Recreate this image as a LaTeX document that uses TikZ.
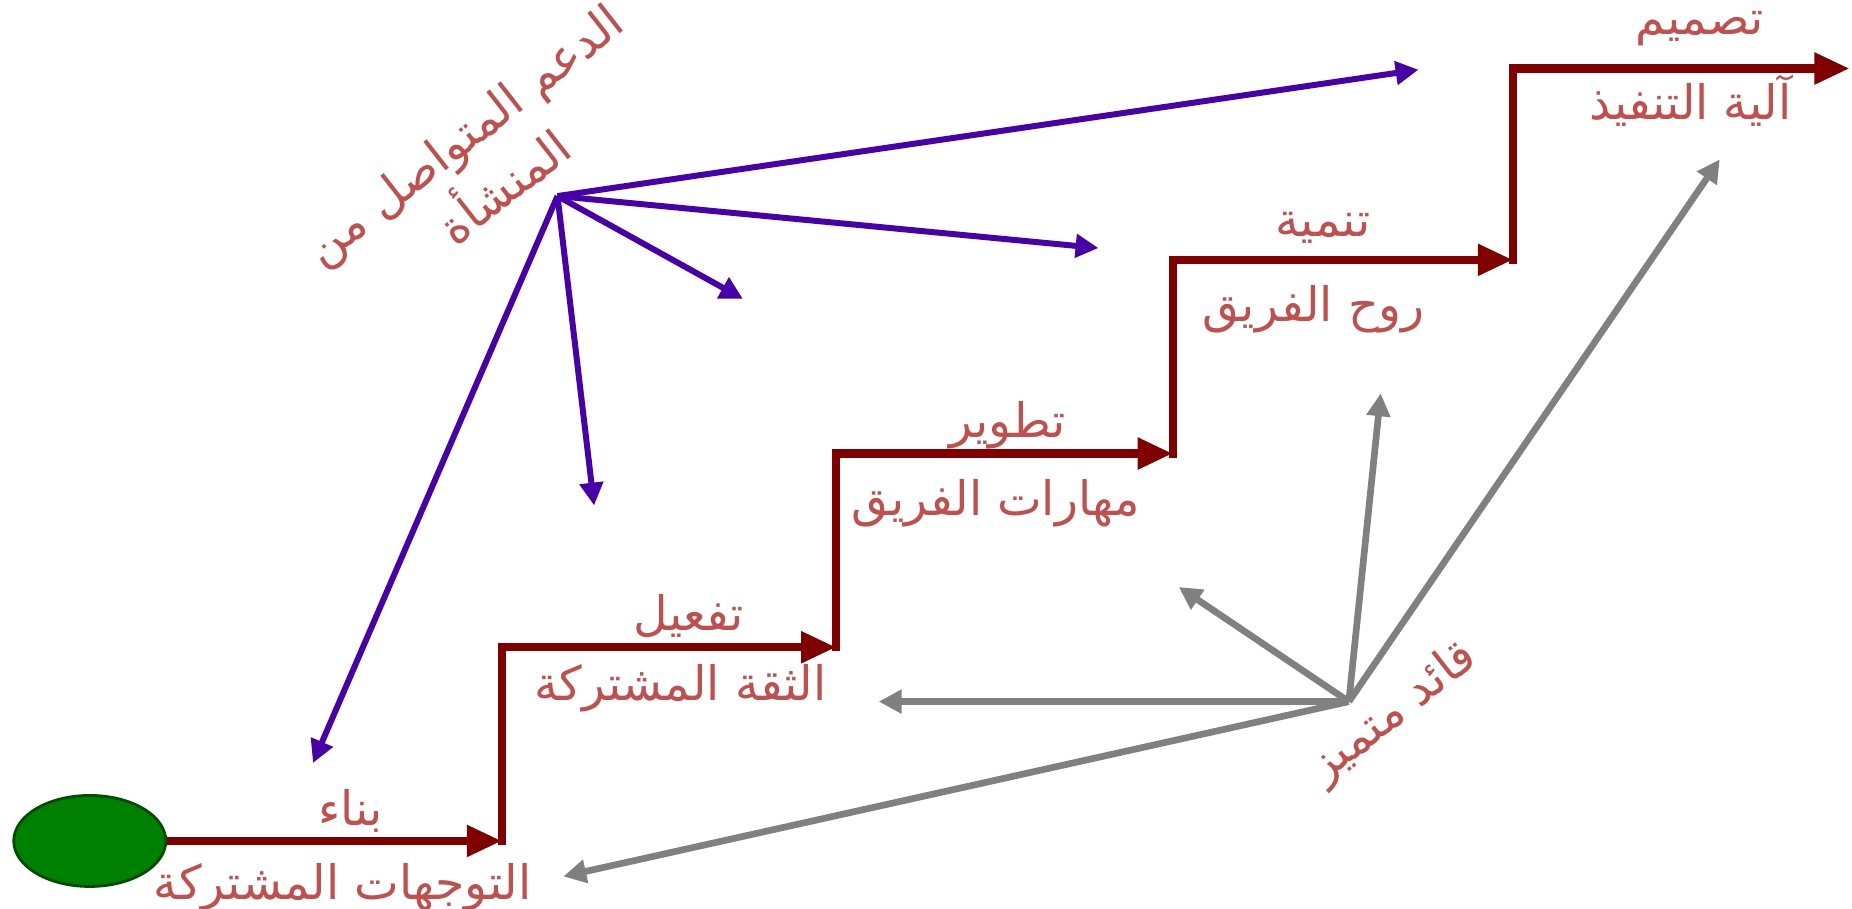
\documentclass[tikz,border=0pt]{standalone}
\usepackage{fontspec}
\newfontfamily\arabicfont[Script=Arabic]{DejaVu Sans}
\TeXXeTstate=1
\usepackage{tikz}
\usetikzlibrary{arrows.meta, shapes.geometric}
\definecolor{stairred}{RGB}{128,0,0}
\definecolor{labelred}{RGB}{192,80,77}
\definecolor{supportblue}{RGB}{72,0,168}
\definecolor{leadgray}{RGB}{128,128,128}
\definecolor{startgreen}{RGB}{0,128,0}

\begin{document}
\begin{tikzpicture}[x=0.01181cm,y=-0.01181cm,
  stair/.style={color=stairred,line width=2.4pt},
  tread/.style={stair,-{Triangle[length=10pt,width=8.5pt]}},
  support/.style={color=supportblue,line width=1.7pt,-{Triangle[length=6.5pt,width=6.5pt]}},
  lead/.style={color=leadgray,line width=1.9pt,-{Triangle[length=6.5pt,width=6.5pt]}},
  lbl/.style={text=labelred,font=\arabicfont\fontsize{13.5}{19}\selectfont}]
\useasboundingbox (0,0) rectangle (1568,769);

\node[ellipse, draw=black!70!green, fill=startgreen, line width=0.8pt, minimum width=1.52cm, minimum height=0.91cm] (start) at (76,712) {};
\coordinate (c1) at (425,712);
\coordinate (t1) at (425,548);
\coordinate (c2) at (708,548);
\coordinate (t2) at (708,384);
\coordinate (c3) at (993,384);
\coordinate (t3) at (993,220);
\coordinate (c4) at (1281,220);
\coordinate (t4) at (1281,58);
\coordinate (c5) at (1566,58);

\coordinate (hub) at (472,166);
\coordinate (s1) at (1201,59);
\coordinate (s2) at (930,210);
\coordinate (s3) at (629,253);
\coordinate (s4) at (503,428);
\coordinate (s5) at (265,646);

\coordinate (leader) at (1142,594);
\coordinate (g1) at (1456,135);
\coordinate (g2) at (1169,333);
\coordinate (g3) at (998,497);
\coordinate (g4) at (744,594);
\coordinate (g5) at (477,742);

\node[lbl] (build) at (297,687) {\beginR بناء\endR};
\node[lbl] (shared) at (290,751) {\beginR التوجهات المشتركة\endR};
\node[lbl] (activate) at (583,522) {\beginR تفعيل\endR};
\node[lbl] (trust) at (576,583) {\beginR الثقة المشتركة\endR};
\node[lbl] (develop) at (853,360) {\beginR تطوير\endR};
\node[lbl] (skills) at (843,426) {\beginR مهارات الفريق\endR};
\node[lbl] (grow) at (1120,193) {\beginR تنمية\endR};
\node[lbl] (spirit) at (1112,262) {\beginR روح الفريق\endR};
\node[lbl] (design) at (1439,24) {\beginR تصميم\endR};
\node[lbl] (mechanism) at (1431,85) {\beginR آلية التنفيذ\endR};
\node[lbl, rotate=38, align=center] (supportlbl) at (410,136) {\beginR الدعم المتواصل من\endR\\\beginR المنشأة\endR};
\node[lbl, rotate=38] (leaderlbl) at (1180,604) {\beginR قائد متميز\endR};

\draw[stair, line cap=rect] (c1) -- (t1) (c2) -- (t2) (c3) -- (t3) (c4) -- (t4);
\path[tread]
(start) edge (c1)
(t1) edge (c2)
(t2) edge (c3)
(t3) edge (c4)
(t4) edge (c5)
;
\path[support]
(hub) edge (s1)
(hub) edge (s2)
(hub) edge (s3)
(hub) edge (s4)
(hub) edge (s5)
;
\path[lead]
(leader) edge (g1)
(leader) edge (g2)
(leader) edge (g3)
(leader) edge (g4)
(leader) edge (g5)
;
\end{tikzpicture}
\end{document}
